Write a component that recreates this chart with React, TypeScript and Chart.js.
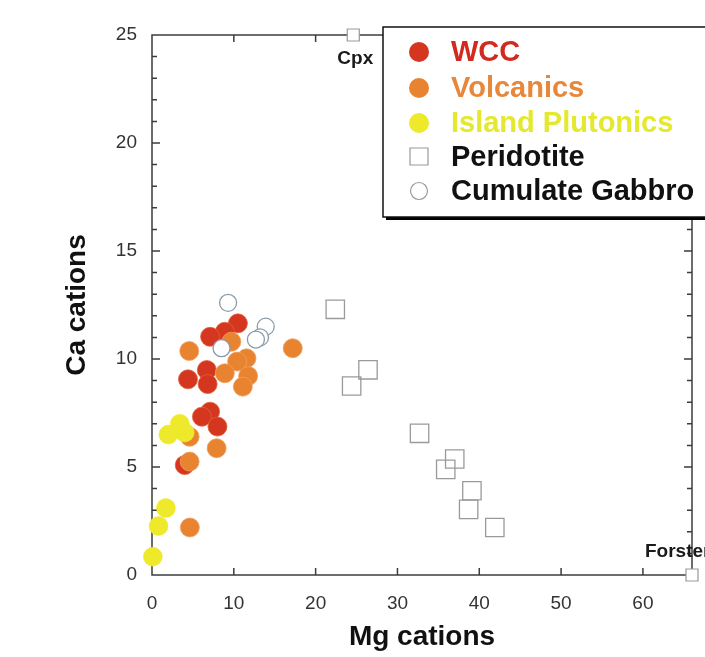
import React, { useEffect, useRef } from "react";
import { Chart, registerables } from "chart.js";
Chart.register(...registerables);

// ---- data (Mg cations vs Ca cations) ----
const wccMg = [10.5, 8.9, 7.1, 4.4, 6.7, 6.8, 7.1, 6.1, 8.0, 4.0];
const wccCa = [11.65, 11.26, 11.03, 9.06, 9.49, 8.84, 7.56, 7.33, 6.87, 5.09];

const volcMg = [4.55, 9.7, 11.55, 10.4, 8.9, 11.75, 11.1, 17.2, 4.6, 7.9, 4.6, 4.63];
const volcCa = [10.37, 10.8, 10.03, 9.88, 9.34, 9.21, 8.72, 10.5, 6.4, 5.87, 5.25, 2.2];

const islandMg = [2.0, 3.4, 4.0, 1.7, 0.8, 0.1];
const islandCa = [6.5, 7.0, 6.6, 3.1, 2.27, 0.85];

const peridMg = [22.4, 26.4, 24.4, 32.7, 37.0, 35.9, 39.1, 38.7, 41.9];
const peridCa = [12.3, 9.5, 8.75, 6.56, 5.37, 4.89, 3.9, 3.04, 2.2];

const gabbroMg = [9.3, 13.9, 13.2, 12.7, 8.5];
const gabbroCa = [12.6, 11.5, 11.0, 10.9, 10.5];

const endLabels = ["Cpx", "Forsterite"];
const endMg = [24.6, 66];
const endCa = [25, 0];

const legendLabels = ["WCC", "Volcanics", "Island Plutonics", "Peridotite", "Cumulate Gabbro"];

const X_MIN = 0;
const X_MAX = 66;
const Y_MIN = 0;
const Y_MAX = 25;

const FONT = "'Liberation Sans', Arial, Helvetica, sans-serif";
const WCC_COLOR = "#d5361f";
const VOLC_COLOR = "#e8842f";
const ISL_COLOR = "#eee92a";

const pts = (xs: number[], ys: number[]) => xs.map((x, i) => ({ x, y: ys[i] }));

const framePlugin = {
  id: "frame",
  beforeDatasetsDraw(chart: any) {
    const { ctx, chartArea: a, scales } = chart;
    const xs = scales.x;
    const ys = scales.y;
    ctx.save();
    ctx.strokeStyle = "#3c3c3c";
    ctx.lineWidth = 1.5;
    ctx.strokeRect(a.left, a.top, a.right - a.left, a.bottom - a.top);
    ctx.beginPath();
    for (let v = Y_MIN + 1; v < Y_MAX; v++) {
      const y = ys.getPixelForValue(v);
      const len = v % 5 === 0 ? 8 : 5;
      ctx.moveTo(a.left, y);
      ctx.lineTo(a.left + len, y);
      ctx.moveTo(a.right, y);
      ctx.lineTo(a.right - len, y);
    }
    for (let v = 10; v < X_MAX; v += 10) {
      const x = xs.getPixelForValue(v);
      ctx.moveTo(x, a.bottom);
      ctx.lineTo(x, a.bottom - 7);
      ctx.moveTo(x, a.top);
      ctx.lineTo(x, a.top + 7);
    }
    ctx.stroke();
    ctx.restore();
  },
};

const overlayPlugin = {
  id: "overlay",
  afterDatasetsDraw(chart: any) {
    const { ctx, scales } = chart;
    const xs = scales.x;
    const ys = scales.y;
    ctx.save();
    // end-member labels
    ctx.fillStyle = "#1a1a1a";
    ctx.font = `bold 19px ${FONT}`;
    ctx.textBaseline = "middle";
    const cx = xs.getPixelForValue(endMg[0]);
    const cy = ys.getPixelForValue(endCa[0]);
    ctx.textAlign = "center";
    ctx.fillText(endLabels[0], cx + 2, cy + 24);
    const fx = xs.getPixelForValue(endMg[1]);
    const fy = ys.getPixelForValue(endCa[1]);
    ctx.textAlign = "left";
    ctx.fillText(endLabels[1], fx - 47, fy - 23);

    // legend box
    const bx = 383;
    const by = 27;
    const bw = 400;
    const bh = 190;
    ctx.fillStyle = "#000";
    ctx.fillRect(bx + 3, by + 3, bw, bh);
    ctx.fillStyle = "#fff";
    ctx.fillRect(bx, by, bw, bh);
    ctx.strokeStyle = "#111";
    ctx.lineWidth = 1.5;
    ctx.strokeRect(bx, by, bw, bh);

    const rows = [52, 88, 123, 157, 191];
    const mx = 419;
    const tx = 451;
    const textColors = ["#d22a1e", "#e8873a", "#e4e82e", "#111", "#111"];
    ctx.font = `bold 29px ${FONT}`;
    ctx.textAlign = "left";
    ctx.textBaseline = "middle";
    legendLabels.forEach((lab, i) => {
      const y = rows[i];
      ctx.beginPath();
      if (i < 3) {
        ctx.fillStyle = [WCC_COLOR, VOLC_COLOR, ISL_COLOR][i];
        ctx.arc(mx, y, 10, 0, Math.PI * 2);
        ctx.fill();
      } else if (i === 3) {
        ctx.fillStyle = "#fff";
        ctx.strokeStyle = "#999";
        ctx.lineWidth = 1.2;
        ctx.rect(mx - 9, y - 9, 18, 17);
        ctx.fill();
        ctx.stroke();
      } else {
        ctx.fillStyle = "#fff";
        ctx.strokeStyle = "#999";
        ctx.lineWidth = 1.2;
        ctx.arc(mx, y, 8.5, 0, Math.PI * 2);
        ctx.fill();
        ctx.stroke();
      }
      ctx.fillStyle = textColors[i];
      ctx.fillText(lab, tx, y + 1);
    });
    ctx.restore();
  },
};

export default function App() {
  const ref = useRef<HTMLCanvasElement>(null);
  useEffect(() => {
    document.body.style.margin = "0";
    const canvas = ref.current!;
    const chart = new Chart(canvas, {
      type: "scatter",
      data: {
        datasets: [
          {
            label: legendLabels[4],
            data: pts(gabbroMg, gabbroCa),
            pointStyle: "circle",
            pointRadius: 8.5,
            backgroundColor: "#ffffff",
            borderColor: "#8a9ba8",
            borderWidth: 1.3,
            order: 0,
            clip: false,
          },
          {
            label: legendLabels[2],
            data: pts(islandMg, islandCa),
            pointRadius: 9.5,
            backgroundColor: ISL_COLOR,
            borderColor: ISL_COLOR,
            borderWidth: 0.5,
            order: 1,
            clip: false,
          },
          {
            label: legendLabels[1],
            data: pts(volcMg, volcCa),
            pointRadius: 9.5,
            backgroundColor: VOLC_COLOR,
            borderColor: "#f0a060",
            borderWidth: 0.8,
            order: 2,
            clip: false,
          },
          {
            label: legendLabels[0],
            data: pts(wccMg, wccCa),
            pointRadius: 9.5,
            backgroundColor: WCC_COLOR,
            borderColor: "#e0603a",
            borderWidth: 0.8,
            order: 3,
            clip: false,
          },
          {
            label: legendLabels[3],
            data: pts(peridMg, peridCa),
            pointStyle: "rect",
            pointRadius: 13,
            backgroundColor: "rgba(255,255,255,0)",
            borderColor: "#9a9a9a",
            borderWidth: 1.3,
            order: 4,
            clip: false,
          },
          {
            label: "End-members",
            data: pts(endMg, endCa),
            pointStyle: "rect",
            pointRadius: 8.5,
            backgroundColor: "#ffffff",
            borderColor: "#999999",
            borderWidth: 1.2,
            order: 5,
            clip: false,
          },
        ],
      },
      options: {
        responsive: false,
        devicePixelRatio: 1,
        animation: false,
        layout: { padding: { top: 35, right: 88, bottom: 0, left: 0 } },
        plugins: {
          legend: { display: false },
          tooltip: { enabled: false },
        },
        scales: {
          x: {
            type: "linear",
            min: X_MIN,
            max: X_MAX,
            grid: { display: false, drawTicks: false },
            border: { display: false },
            ticks: {
              stepSize: 10,
              includeBounds: false,
              padding: 17,
              color: "#333",
              font: { family: FONT, size: 19 },
            },
            title: {
              display: true,
              text: "Mg cations",
              color: "#111",
              font: { family: FONT, size: 28, weight: "bold" },
              padding: { top: 0, bottom: 3 },
            },
            afterFit(scale: any) {
              scale.height = 82;
            },
          },
          y: {
            type: "linear",
            min: Y_MIN,
            max: Y_MAX,
            grid: { display: false, drawTicks: false },
            border: { display: false },
            ticks: {
              stepSize: 5,
              padding: 15,
              color: "#333",
              font: { family: FONT, size: 19 },
            },
            title: {
              display: true,
              text: "Ca cations",
              color: "#111",
              font: { family: FONT, size: 28, weight: "bold" },
              padding: { top: 60, bottom: 0 },
            },
            afterFit(scale: any) {
              scale.width = 152;
            },
          },
        },
      } as any,
      plugins: [framePlugin, overlayPlugin],
    });
    return () => chart.destroy();
  }, []);
  return (
    <div style={{ width: 705, height: 657, overflow: "hidden" }}>
      <canvas ref={ref} width={780} height={657} style={{ display: "block", width: 780, height: 657 }} />
    </div>
  );
}
